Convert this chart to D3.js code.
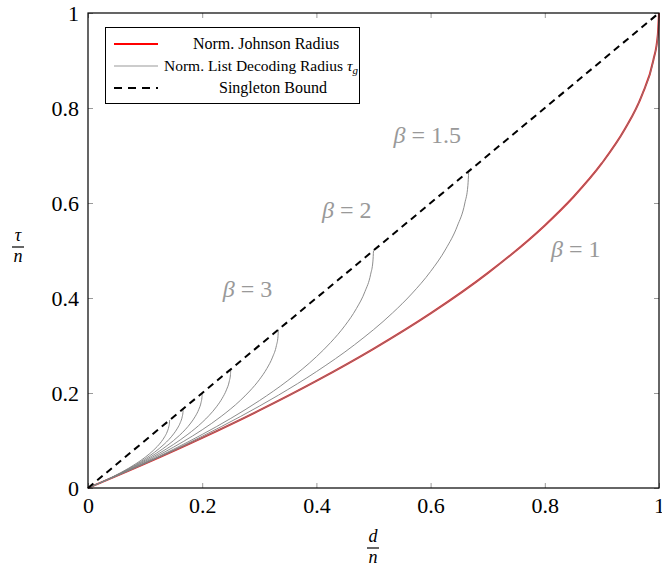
<!DOCTYPE html>
<html>
<head>
<meta charset="utf-8">
<script src="https://cdn.jsdelivr.net/npm/d3@7"></script>
<style>
  body { margin: 0; background: #fff; }
  svg text { font-family: "Liberation Serif", "Times New Roman", "DejaVu Serif", serif !important; }
</style>
</head>
<body>
<div id="chart"></div>
<script>
// d/n and tau/n values
const johnsonD   = [0, 0.1, 0.2, 0.3, 0.4, 0.5, 0.6, 0.7, 0.8, 0.85, 0.9, 0.94, 0.97, 0.99, 0.998, 1];
const johnsonTau = [0, 0.0513, 0.1056, 0.1633, 0.2254, 0.2929, 0.3675, 0.4523, 0.5528, 0.6127, 0.6838, 0.7551, 0.8268, 0.9, 0.9553, 1];

const beta15D   = [0, 0.0667, 0.1333, 0.2, 0.2667, 0.3333, 0.4, 0.4667, 0.5333, 0.5667, 0.6, 0.6267, 0.6467, 0.66, 0.6653, 0.6667];
const beta15Tau = [0, 0.0342, 0.0704, 0.1089, 0.1503, 0.1953, 0.245, 0.3015, 0.3685, 0.4085, 0.4559, 0.5034, 0.5512, 0.6, 0.6369, 0.6667];

const beta2D   = [0, 0.05, 0.1, 0.15, 0.2, 0.25, 0.3, 0.35, 0.4, 0.425, 0.45, 0.47, 0.485, 0.495, 0.499, 0.5];
const beta2Tau = [0, 0.0257, 0.0528, 0.0817, 0.1127, 0.1465, 0.1838, 0.2262, 0.2764, 0.3064, 0.3419, 0.3776, 0.4134, 0.45, 0.4777, 0.5];

const beta3D   = [0, 0.0333, 0.0667, 0.1, 0.1333, 0.1667, 0.2, 0.2333, 0.2667, 0.2833, 0.3, 0.3133, 0.3233, 0.33, 0.3327, 0.3333];
const beta3Tau = [0, 0.0171, 0.0352, 0.0544, 0.0751, 0.0976, 0.1225, 0.1508, 0.1843, 0.2042, 0.2279, 0.2517, 0.2756, 0.3, 0.3184, 0.3333];

const beta4D   = [0, 0.025, 0.05, 0.075, 0.1, 0.125, 0.15, 0.175, 0.2, 0.2125, 0.225, 0.235, 0.2425, 0.2475, 0.2495, 0.25];
const beta4Tau = [0, 0.0128, 0.0264, 0.0408, 0.0564, 0.0732, 0.0919, 0.1131, 0.1382, 0.1532, 0.171, 0.1888, 0.2067, 0.225, 0.2388, 0.25];

const beta5D   = [0, 0.02, 0.04, 0.06, 0.08, 0.1, 0.12, 0.14, 0.16, 0.17, 0.18, 0.188, 0.194, 0.198, 0.1996, 0.2];
const beta5Tau = [0, 0.0103, 0.0211, 0.0327, 0.0451, 0.0586, 0.0735, 0.0905, 0.1106, 0.1225, 0.1368, 0.151, 0.1654, 0.18, 0.1911, 0.2];

const beta6D   = [0, 0.0167, 0.0333, 0.05, 0.0667, 0.0833, 0.1, 0.1167, 0.1333, 0.1417, 0.15, 0.1567, 0.1617, 0.165, 0.1663, 0.1667];
const beta6Tau = [0, 0.0086, 0.0176, 0.0272, 0.0376, 0.0488, 0.0613, 0.0754, 0.0921, 0.1021, 0.114, 0.1259, 0.1378, 0.15, 0.1592, 0.1667];

const beta7D   = [0, 0.0143, 0.0286, 0.0429, 0.0571, 0.0714, 0.0857, 0.1, 0.1143, 0.1214, 0.1286, 0.1343, 0.1386, 0.1414, 0.1426, 0.1429];
const beta7Tau = [0, 0.0073, 0.0151, 0.0233, 0.0322, 0.0418, 0.0525, 0.0646, 0.079, 0.0875, 0.0977, 0.1079, 0.1181, 0.1286, 0.1365, 0.1429];

const singletonD   = [0, 1];
const singletonTau = [0, 1];

const xTicks = [0, 0.2, 0.4, 0.6, 0.8, 1];
const yTicks = [0, 0.2, 0.4, 0.6, 0.8, 1];

// beta labels: [text, d/n, tau/n] at the label's left baseline
const betaLabels = [
    ["1.5", 0.535, 0.726],
    ["2", 0.410, 0.568],
    ["3", 0.236, 0.402],
    ["1", 0.811, 0.486]
];

const W = 662, H = 570;
const margin = { top: 13, right: 3, bottom: 82, left: 88 };
const serif = "'Liberation Serif', 'Times New Roman', 'DejaVu Serif', serif";

const svg = d3.select("#chart").append("svg")
    .attr("width", W)
    .attr("height", H)
    .attr("font-family", serif);

const x = d3.scaleLinear().domain([0, 1]).range([margin.left, W - margin.right]);
const y = d3.scaleLinear().domain([0, 1]).range([H - margin.bottom, margin.top]);

const zip = (ds, ts) => ds.map((d, i) => [d, ts[i]]);

const line = d3.line()
    .x(p => x(p[0]))
    .y(p => y(p[1]))
    .curve(d3.curveMonotoneX);

// axes with inward ticks
const tickCol = "#9a9a9a";
const styleAxis = (g) => {
    g.attr("font-family", serif);
    g.select(".domain").remove();
    g.selectAll(".tick line").attr("stroke", tickCol).attr("stroke-width", 1);
    g.selectAll(".tick text").attr("fill", "#000").style("font-size", "22px");
};

svg.append("g")
    .attr("transform", `translate(0,${y(0)})`)
    .call(d3.axisBottom(x).tickValues(xTicks).tickFormat(d3.format("")).tickSizeInner(-5).tickSizeOuter(0).tickPadding(9))
    .call(styleAxis);
svg.append("g")
    .attr("transform", `translate(0,${y(1)})`)
    .call(d3.axisTop(x).tickValues(xTicks).tickFormat("").tickSizeInner(-5).tickSizeOuter(0))
    .call(styleAxis);
svg.append("g")
    .attr("transform", `translate(${x(0)},0)`)
    .call(d3.axisLeft(y).tickValues(yTicks).tickFormat(d3.format("")).tickSizeInner(-5).tickSizeOuter(0).tickPadding(9))
    .call(styleAxis);
svg.append("g")
    .attr("transform", `translate(${x(1)},0)`)
    .call(d3.axisRight(y).tickValues(yTicks).tickFormat("").tickSizeInner(-5).tickSizeOuter(0))
    .call(styleAxis);

// curves
svg.append("path")
    .datum(zip(johnsonD, johnsonTau))
    .attr("fill", "none")
    .attr("stroke", "#e8262a")
    .attr("stroke-width", 2)
    .attr("d", line);

const grayCurves = [
    zip(johnsonD, johnsonTau),
    zip(beta15D, beta15Tau),
    zip(beta2D, beta2Tau),
    zip(beta3D, beta3Tau),
    zip(beta4D, beta4Tau),
    zip(beta5D, beta5Tau),
    zip(beta6D, beta6Tau),
    zip(beta7D, beta7Tau)
];
svg.selectAll("path.list")
    .data(grayCurves)
    .enter()
    .append("path")
    .attr("class", "list")
    .attr("fill", "none")
    .attr("stroke", "#808080")
    .attr("stroke-width", 0.9)
    .attr("d", line);

svg.append("path")
    .datum(zip(singletonD, singletonTau))
    .attr("fill", "none")
    .attr("stroke", "#000")
    .attr("stroke-width", 2)
    .attr("stroke-dasharray", "7,5")
    .attr("d", d3.line().x(p => x(p[0])).y(p => y(p[1])));

// frame
svg.append("rect")
    .attr("x", x(0)).attr("y", y(1))
    .attr("width", x(1) - x(0)).attr("height", y(0) - y(1))
    .attr("fill", "none")
    .attr("stroke", "#000")
    .attr("stroke-width", 1.2);

// beta labels
const bl = svg.selectAll("text.beta")
    .data(betaLabels)
    .enter()
    .append("text")
    .attr("class", "beta")
    .attr("x", d => x(d[1]))
    .attr("y", d => y(d[2]))
    .attr("fill", "#999")
    .style("font-size", "24px");
bl.append("tspan").style("font-style", "italic").text("β");
bl.append("tspan").text(d => " = " + d[0]);

// legend
const legend = svg.append("g");
legend.append("rect")
    .attr("x", 105.5).attr("y", 27.5)
    .attr("width", 254).attr("height", 76)
    .attr("fill", "#fff")
    .attr("stroke", "#000")
    .attr("stroke-width", 1);

const legendItems = [
    { y: 44, color: "#f00", width: 2, dash: null },
    { y: 66, color: "#999", width: 1, dash: null },
    { y: 88, color: "#000", width: 2, dash: "8,6" }
];
legend.selectAll("line.sample")
    .data(legendItems)
    .enter()
    .append("line")
    .attr("x1", 114).attr("x2", 158)
    .attr("y1", d => d.y).attr("y2", d => d.y)
    .attr("stroke", d => d.color)
    .attr("stroke-width", d => d.width)
    .attr("stroke-dasharray", d => d.dash);

legend.append("text").attr("x", 266).attr("y", 49).attr("text-anchor", "middle")
    .style("font-size", "16px").text("Norm. Johnson Radius");
const lt = legend.append("text").attr("x", 261).attr("y", 71).attr("text-anchor", "middle")
    .style("font-size", "15.5px");
lt.append("tspan").text("Norm. List Decoding Radius ");
lt.append("tspan").style("font-style", "italic").text("τ");
lt.append("tspan").attr("dy", 3).style("font-size", "11px").style("font-style", "italic").text("g");
legend.append("text").attr("x", 273).attr("y", 93).attr("text-anchor", "middle")
    .style("font-size", "16px").text("Singleton Bound");

// axis labels as fractions
const fraction = (cx, cy, top) => {
    svg.append("text").attr("x", cx).attr("y", cy - 6).attr("text-anchor", "middle")
        .style("font-size", "18px").style("font-style", "italic").text(top);
    svg.append("line").attr("x1", cx - 6).attr("x2", cx + 6)
        .attr("y1", cy).attr("y2", cy)
        .attr("stroke", "#000").attr("stroke-width", 1.2);
    svg.append("text").attr("x", cx).attr("y", cy + 15).attr("text-anchor", "middle")
        .style("font-size", "18px").style("font-style", "italic").text("n");
};
fraction(373, 548, "d");
fraction(18, 247, "τ");
</script>
</body>
</html>
